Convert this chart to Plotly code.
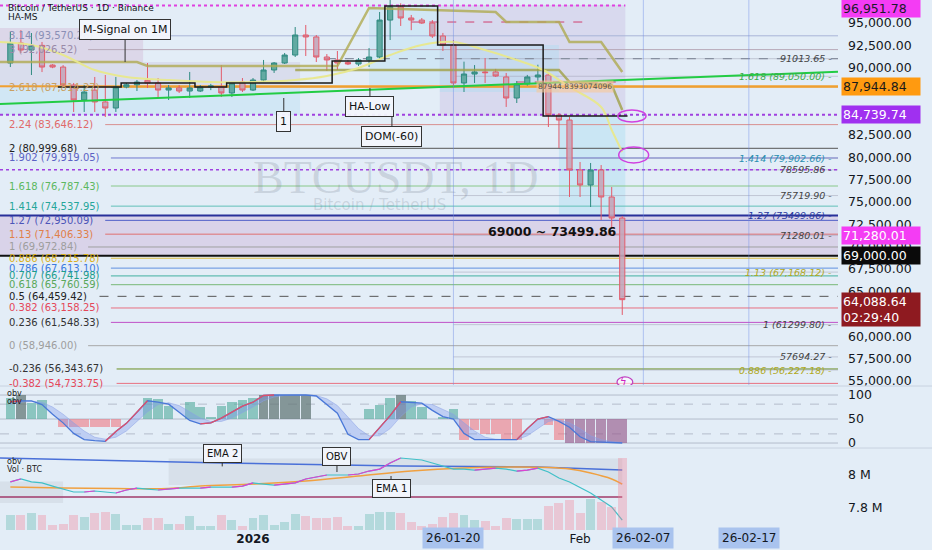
import plotly.graph_objects as go
import pandas as pd

# ---------------- data ----------------
dates = pd.date_range("2025-12-09", "2026-02-05", freq="D")

opens = [90530,92765,91980,92500,90300,90080,88070,86400,87500,86180,
         85500,87850,88100,88600,88300,87510,87740,87400,87400,87850,
         87850,87180,88410,87510,88630,89750,90530,91420,93660,93440,
         91200,90870,90600,90420,90870,91200,95330,96790,95560,95330,
         95000,93550,92540,88300,89300,89530,89530,88970,86620,88190,
         88970,89190,84720,84160,78580,76900,78580,75560,73210]
highs = [94000,94200,93880,92880,90400,90300,88300,88070,88970,89190,
         88970,88300,88630,90530,88850,88070,88070,89530,88070,88200,
         90300,88400,88850,88850,90870,90640,91650,94550,94780,93660,
         91530,91870,90870,91090,92200,96230,97900,97200,95900,95560,
         95330,93890,93100,90680,90300,91090,89870,89420,88520,89200,
         90340,89420,84930,84500,79470,79360,79130,76680,73430]
lows = [90080,91650,89190,89520,89950,87850,85060,85060,85060,84500,
        85060,87700,87400,87740,86620,86400,87180,86620,87290,87500,
        86730,86730,87290,87400,88410,89420,90420,91200,91310,90640,
        89640,89750,90300,90200,90080,90980,93100,94670,94200,94900,
        93330,91870,87740,87290,88300,88300,88970,85620,86060,88000,
        88300,83380,81030,75560,75560,74440,72990,72100,62380]
closes = [92765,91980,92500,90080,90080,88070,86400,87290,86180,85500,
          87850,88100,88400,88300,87510,87740,87400,87740,87850,87960,
          87180,88300,87510,88630,89750,90530,91420,93660,93440,91200,
          90870,90530,90420,90870,91200,95330,96790,95560,95330,95000,
          93550,92540,88300,89300,89530,89450,89080,86620,88190,88970,
          89190,84720,84160,78580,76900,78580,75560,73210,64088.64]

# volume (thousand BTC)
volumes = [18.0,18.0,20.4,18.0,6.0,7.2,18.0,15.6,20.4,21.6,
           19.2,6.0,6.0,14.4,14.4,7.2,7.2,16.8,4.8,4.8,
           18.0,12.0,4.8,14.4,18.0,6.0,9.6,19.2,16.8,14.4,
           14.4,15.6,4.8,4.8,19.2,21.6,21.6,20.4,9.6,4.8,
           7.2,15.6,20.4,18.0,12.0,10.8,4.8,14.4,13.2,13.2,
           13.2,28.8,32.4,36.0,20.4,37.2,33.6,27.6,86.4]

# OBV (millions)
obv = [7.958,7.976,7.958,7.952,7.933,7.915,7.897,7.897,7.903,7.897,
       7.891,7.909,7.921,7.915,7.909,7.915,7.921,7.921,7.921,7.927,
       7.927,7.927,7.933,7.952,7.945,7.939,7.945,7.952,7.976,7.988,
       8.000,8.000,8.000,8.006,8.024,8.036,8.073,8.103,8.097,8.091,
       8.073,8.055,8.036,8.036,8.030,8.036,8.042,8.036,8.024,8.030,
       8.042,8.018,7.982,7.958,7.927,7.891,7.848,7.806,7.727]
ema1_dates = ["2025-12-09","2025-12-14","2025-12-19","2025-12-24","2025-12-27","2026-01-01",
              "2026-01-06","2026-01-11","2026-01-16","2026-01-21","2026-01-26","2026-01-29",
              "2026-01-31","2026-02-02","2026-02-04","2026-02-05"]
ema1 = [7.927,7.921,7.918,7.918,7.933,7.945,7.964,7.994,8.024,8.042,8.048,8.045,
        8.036,8.012,7.976,7.945]
ema2_dates = ["2025-12-08","2025-12-29","2026-01-15","2026-01-28","2026-02-05"]
ema2 = [8.103,8.073,8.055,8.048,8.030]
obv_base = 7.867

# oscillator pane
osc_hist = [94,100,84,90,50,34,34,34,34,34,34,50,50,94,92,78,50,85,75,55,
            78,85,90,94,100,100,100,100,100,50,50,50,50,50,70,80,94,100,88,75,
            50,55,70,7,28,18,18,7,7,50,50,38,7,0,0,0,0,0,0]
osc_k = [86,88,88,80,60,42,20,7,5,3.5,24,41,64,88,85,81,64,47,40,42,
         52,65,77,85,99,100,100,100,100,98,80,62,18,7,7,31,57,86,85,83,
         68,55,50,20,7,7,7,7,7,30,50,55,45,33,13,3,2,1,0]
osc_d = [80,85,87,85,75,60,42,25,12,8,12,25,45,65,80,84,78,65,52,45,
         45,52,63,75,88,96,99,100,100,99,92,78,55,30,15,15,30,55,75,82,
         80,70,60,42,25,12,8,7,7,15,30,45,48,42,30,15,7,3,1]

# overlay lines on price
ma_dates = ["2025-12-08","2025-12-11","2025-12-14","2025-12-17","2025-12-20","2025-12-24",
            "2025-12-28","2026-01-01","2026-01-05","2026-01-08","2026-01-11","2026-01-14",
            "2026-01-17","2026-01-20","2026-01-23","2026-01-26","2026-01-28 12:00","2026-01-31",
            "2026-02-03","2026-02-04","2026-02-05"]
ma_vals = [92877,92542,91425,89749,88967,88631,88408,88408,88631,89078,89972,91425,
           92542,92877,91983,90866,89749,87849,85615,83045,80587]
up_olive_dates = ["2025-12-08","2025-12-21","2025-12-22","2026-01-09","2026-01-12","2026-01-24",
                  "2026-01-25","2026-01-30","2026-01-31","2026-02-03","2026-02-05"]
up_olive_vals = [90643,90643,90196,90196,96676,96229,95112,95112,92877,92877,89526]
lo_olive_dates = ["2026-01-05","2026-01-30","2026-01-31","2026-02-04","2026-02-05"]
lo_olive_vals = [89749,89749,88408,88073,85279]
hams_dates = ["2025-12-13 12:00","2025-12-19 12:00","2025-12-26 12:00","2025-12-29 12:00",
              "2026-01-08 12:00","2026-01-13 12:00","2026-01-18 12:00","2026-01-28 12:00",
              "2026-02-05 12:00"]
hams_vals = [87850,88296,87850,88296,90754,96900,92542,84610,84610]
trend_dates = ["2025-12-08","2026-02-25 10:45"]
trend_vals = [85950,89559]

# fib levels (left)
fib_vals = [93570.26,92026.52,87814.27,83646.12,80999.68,79919.05,76787.43,74537.95,
            72950.09,71406.33,69972.84,68715.78,67613.10,66741.98,65760.59,64459.42,
            63158.25,61548.33,58946.00,56343.67,54733.75]
fib_labels = ["3.14 (93,570.26)","3 (92,026.52)","2.618 (87,814.27)","2.24 (83,646.12)",
              "2 (80,999.68)","1.902 (79,919.05)","1.618 (76,787.43)","1.414 (74,537.95)",
              "1.27 (72,950.09)","1.13 (71,406.33)","1 (69,972.84)","0.886 (68,715.78)",
              "0.786 (67,613.10)","0.707 (66,741.98)","0.618 (65,760.59)","0.5 (64,459.42)",
              "0.382 (63,158.25)","0.236 (61,548.33)","0 (58,946.00)","-0.236 (56,343.67)",
              "-0.382 (54,733.75)"]
fib_colors = ["#8a8fb5","#9a8aa8","#c9a062","#e06a6a","#222222","#5c62c4","#5cb860","#26a69a",
              "#4b55b8","#e0804a","#9e9e9e","#d9b020","#3d7be0","#1e9e8c","#5aa85a","#222222",
              "#e5485a","#333333","#9e9e9e","#333333","#e5485a"]
fib_line_colors = ["#a8b4d8","#b8a8b8","#e8a040","#d89090","#555555","#7078d0","#88c88a","#60c0b8",
                   "#5060c8","#e07070","#a0a0a0","#e0c040","#6090e0","#40b0a0","#78b878","#555555",
                   "#e87080","#c050c8","#a8a8a8","#6b8e23","#e87080"]

# fib levels (right)
rfib_vals = [91013.65,89050.00,79902.66,78595.86,75719.90,73499.86,71280.01,67168.12,
             61299.80,57694.27,56227.18]
rfib_labels = ["91013.65","1.618 (89,050.00)","1.414 (79,902.66)","78595.86","75719.90",
               "1.27 (73499.86)","71280.01","1.13 (67,168.12)","1 (61299.80)","57694.27",
               "0.886 (56,227.18)"]
rfib_colors = ["#444","#3caa4a","#2a8fb0","#444","#444","#2a3aa0","#444","#b0a820","#444","#444",
               "#b0a820"]

price_ticks = [55000, 57500, 60000, 65000, 67500, 70000, 72500, 75000, 77500, 80000,
               82500, 90000, 92500, 95000]

# ---------------- helpers (layout) ----------------
JAN1 = pd.Timestamp("2026-01-01")
PX_PER_DAY = 10.55
def px_date(px):
    return JAN1 + pd.Timedelta(days=(px - 253) / PX_PER_DAY)

X0 = px_date(0)
X1 = px_date(838)
FONT = "DejaVu Sans"
BG = "#e3edf7"

fig = go.Figure()

# ---- price pane ----
fig.add_trace(go.Candlestick(
    x=dates, open=opens, high=highs, low=lows, close=closes,
    increasing=dict(line=dict(color="#2f8a80", width=1), fillcolor="#62aaa2"),
    decreasing=dict(line=dict(color="#e35b6b", width=1), fillcolor="rgba(196,165,185,0.9)"),
    whiskerwidth=0, xaxis="x", yaxis="y", showlegend=False, hoverinfo="skip"))

fig.add_trace(go.Scatter(x=trend_dates, y=trend_vals, mode="lines",
                         line=dict(color="#22cc44", width=2), xaxis="x", yaxis="y", showlegend=False))
fig.add_trace(go.Scatter(x=up_olive_dates, y=up_olive_vals, mode="lines",
                         line=dict(color="rgba(175,170,80,0.8)", width=2.5), xaxis="x", yaxis="y", showlegend=False))
fig.add_trace(go.Scatter(x=lo_olive_dates, y=lo_olive_vals, mode="lines",
                         line=dict(color="rgba(160,160,70,0.8)", width=2.5), xaxis="x", yaxis="y", showlegend=False))
fig.add_trace(go.Scatter(x=ma_dates, y=ma_vals, mode="lines", line_shape="spline",
                         line=dict(color="rgba(232,232,140,0.95)", width=2), xaxis="x", yaxis="y", showlegend=False))
fig.add_trace(go.Scatter(x=hams_dates, y=hams_vals, mode="lines", line_shape="hv",
                         line=dict(color="#1a1a1a", width=1.5), xaxis="x", yaxis="y", showlegend=False))

# ---- oscillator pane ----
osc_colors = []
for v in osc_hist:
    if v >= 98:
        osc_colors.append("rgba(100,120,120,0.75)")
    elif v > 50:
        osc_colors.append("rgba(80,170,155,0.6)")
    elif v <= 2:
        osc_colors.append("rgba(150,90,140,0.65)")
    else:
        osc_colors.append("rgba(240,110,120,0.55)")
fig.add_trace(go.Bar(x=dates, y=[v - 50 for v in osc_hist], base=50, marker_color=osc_colors,
                     marker_line_width=0, width=86400000 * 0.92, xaxis="x2", yaxis="y2",
                     showlegend=False, hoverinfo="skip"))
fig.add_trace(go.Scatter(x=dates, y=osc_d, mode="lines", line=dict(color="rgba(140,160,230,0.5)", width=1),
                         xaxis="x2", yaxis="y2", showlegend=False))
fig.add_trace(go.Scatter(x=dates, y=osc_k, mode="lines", line=dict(color="#4a78d8", width=1.3),
                         fill="tonexty", fillcolor="rgba(120,150,235,0.35)",
                         xaxis="x2", yaxis="y2", showlegend=False))
rise_y = [None] * len(osc_k)
for i in range(1, len(osc_k)):
    if osc_k[i] > osc_k[i - 1]:
        rise_y[i - 1] = osc_k[i - 1]
        rise_y[i] = osc_k[i]
fig.add_trace(go.Scatter(x=dates, y=rise_y, mode="lines", line=dict(color="#e0506a", width=1.3),
                         connectgaps=False, xaxis="x2", yaxis="y2", showlegend=False))

# ---- volume / OBV pane ----
vol_colors = ["rgba(90,180,170,0.35)" if c >= o else "rgba(240,130,150,0.35)" for o, c in zip(opens, closes)]
fig.add_trace(go.Bar(x=dates, y=volumes, marker_color=vol_colors, marker_line_width=0,
                     width=86400000 * 0.85, xaxis="x3", yaxis="y4", showlegend=False, hoverinfo="skip"))
fig.add_trace(go.Scatter(x=[X0, dates[-1]], y=[obv_base, obv_base], mode="lines",
                         line=dict(color="#a03a6a", width=1.5), xaxis="x3", yaxis="y3", showlegend=False))
fig.add_trace(go.Scatter(x=ema2_dates, y=ema2, mode="lines", line=dict(color="#4a70d8", width=1.5),
                         xaxis="x3", yaxis="y3", showlegend=False))
fig.add_trace(go.Scatter(x=ema1_dates, y=ema1, mode="lines", line_shape="spline",
                         line=dict(color="#f0a040", width=1.5), xaxis="x3", yaxis="y3", showlegend=False))
fig.add_trace(go.Scatter(x=dates, y=obv, mode="lines", line=dict(color="#40c0c8", width=1.2),
                         xaxis="x3", yaxis="y3", showlegend=False))
up_obv = [None] * len(obv)
for i in range(1, len(obv)):
    if obv[i] > obv[i - 1]:
        up_obv[i - 1] = obv[i - 1]
        up_obv[i] = obv[i]
fig.add_trace(go.Scatter(x=dates, y=up_obv, mode="lines", line=dict(color="#e040d0", width=1.2),
                         connectgaps=False, xaxis="x3", yaxis="y3", showlegend=False))

# ---------------- shapes ----------------
shapes = []
def rect(x0, x1, y0, y1, color, yref="y", xref="x"):
    shapes.append(dict(type="rect", xref=xref, yref=yref, x0=x0, x1=x1, y0=y0, y1=y1,
                       fillcolor=color, line_width=0, layer="below"))

rect(X0, "2025-12-21 14:00", 90643, 94441, "rgba(205,175,205,0.35)")
rect(X0, "2026-01-05 11:00", 87737, 90643, "rgba(195,185,215,0.30)")
rect(X0, "2026-01-05 11:00", 84720, 87737, "rgba(175,222,240,0.35)")
rect("2026-01-12", "2026-01-18 17:00", 87737, 97011, "rgba(175,222,240,0.35)")
rect("2026-01-18 17:00", "2026-02-05 07:00", 84609, 97011, "rgba(195,180,220,0.35)")
rect("2026-01-18 17:00", "2026-01-30", 87290, 92542, "rgba(165,220,240,0.35)")
rect("2026-01-30", "2026-02-05 07:00", 73548, 84609, "rgba(165,220,240,0.40)")
rect(X0, X1, 69000, 73499.86, "rgba(205,180,215,0.45)")

def hline(y, x0, x1, color, width=1, dash="solid", yref="y", xref="x"):
    shapes.append(dict(type="line", xref=xref, yref=yref, x0=x0, x1=x1, y0=y, y1=y,
                       line=dict(color=color, width=width, dash=dash), layer="below"))

# left fib lines, starting after the label text
for v, lab, lc in zip(fib_vals, fib_labels, fib_line_colors):
    start = px_date(10 + len(lab) * 5.7 + 4)
    dash = "dash" if lab.startswith("0.5 ") else "solid"
    hline(v, start, X1, lc, 1, dash)

# right fib lines
for v, c in zip(rfib_vals, rfib_colors):
    hline(v, "2026-01-20", X1, "rgba(150,150,170,0.45)", 1)

hline(87944.84, X0, X1, "#f0a030", 2)
hline(73499.86, X0, X1, "#28309a", 2)
hline(69000, X0, X1, "#111111", 2)
hline(96951.78, X0, "2026-02-05 07:00", "#e040e0", 2, "dot")
hline(84739.74, X0, X1, "#a040e0", 2, "dot")
hline(78595.86, X0, X1, "#a040e0", 1.5, "dot")
hline(91013.65, "2026-01-08", X1, "#8890a0", 1.2, "dash")
hline(95110, "2026-01-16", "2026-02-02", "#d04070", 1, "dash")
hline(88408, "2026-01-26", "2026-02-05 07:00", "#d04070", 1, "dash")

for d in ["2026-01-20", "2026-02-07", "2026-02-17"]:
    shapes.append(dict(type="line", xref="x", yref="paper", x0=d, x1=d,
                       y0=1 - 385 / 530, y1=1, line=dict(color="rgba(110,140,230,0.45)", width=1)))

# ellipses
shapes.append(dict(type="circle", xref="x", yref="y", x0="2026-02-04 14:00", x1="2026-02-07 06:00",
                   y0=83938, y1=85279, line=dict(color="#d040e0", width=1.5)))
shapes.append(dict(type="circle", xref="x", yref="y", x0="2026-02-04 16:00", x1="2026-02-07 12:00",
                   y0=79357, y1=81145, line=dict(color="#d040e0", width=1.5)))
shapes.append(dict(type="circle", xref="x", yref="y", x0="2026-02-04 12:00", x1="2026-02-06 00:00",
                   y0=54350, y1=55450, line=dict(color="#c040c0", width=1.2),
                   fillcolor="rgba(255,255,255,0.6)"))

# oscillator guide lines
for v, dsh in [(100, "solid"), (50, "solid"), (0, "solid"), (81, "dash"), (19, "dash")]:
    shapes.append(dict(type="line", xref="paper", yref="y2", x0=0, x1=1, y0=v, y1=v,
                       line=dict(color="#b4bccb", width=1, dash=dsh), layer="below"))
# pane separators
for ypx in [386, 448]:
    yp = 1 - ypx / 530
    shapes.append(dict(type="line", xref="paper", yref="paper", x0=0, x1=932 / 838, y0=yp, y1=yp,
                       line=dict(color="#c8d2e0", width=1)))
# OBV band
shapes.append(dict(type="rect", xref="x", yref="y3", x0="2025-12-24", x1="2026-02-05",
                   y0=7.94, y1=8.10, fillcolor="rgba(160,165,175,0.18)", line_width=0, layer="below"))
shapes.append(dict(type="rect", xref="x", yref="y3", x0=X0, x1="2025-12-14",
                   y0=7.83, y1=7.96, fillcolor="rgba(160,165,175,0.18)", line_width=0, layer="below"))

# ---------------- annotations ----------------
ann = []
for v, lab, c in zip(fib_vals, fib_labels, fib_colors):
    ann.append(dict(xref="paper", yref="y", x=0, y=v, xanchor="left", yanchor="middle", xshift=7,
                    text=lab, showarrow=False, font=dict(family=FONT, size=10, color=c)))
for v, lab, c in zip(rfib_vals, rfib_labels, rfib_colors):
    ann.append(dict(xref="paper", yref="y", x=1, y=v, xanchor="right", yanchor="middle", xshift=-4,
                    text=lab + " -", showarrow=False,
                    font=dict(family=FONT, size=9.5, color=c, style="italic")))

ann.append(dict(xref="x", yref="y", x="2026-01-31 12:00", y=87944.84, text="87944.8393074096",
                showarrow=False, font=dict(family=FONT, size=7.5, color="#555"),
                bgcolor="rgba(250,200,150,0.6)", borderpad=1))

# price-axis labels
def plabel(v, text, bg, fg, extra="", yshift=0):
    ann.append(dict(xref="paper", yref="y", x=1, y=v, xanchor="left", yanchor="middle" if not extra else "top",
                    xshift=3, yshift=(8 if extra else 0) + yshift,
                    text=text + extra, showarrow=False, align="left", width=76,
                    bgcolor=bg, font=dict(family=FONT, size=12.5, color=fg), borderpad=1))
plabel(96951.78, "96,951.78", "#f43cf4", "#1a1a2a", yshift=-3)
plabel(87944.84, "87,944.84", "#ff9a10", "#1a1a1a")
plabel(84739.74, "84,739.74", "#a030f0", "#ffffff")
plabel(71280.01, "71,280.01", "#f43cf4", "#ffffff")
plabel(69000.00, "69,000.00", "#0a0a0a", "#ffffff")
plabel(64088.64, "64,088.64", "#8e1a20", "#ffffff", "<br>02:29:40")

# callouts
def callout(x, y, text, ay, yref="y", size=11):
    ann.append(dict(xref="x", yref=yref, x=x, y=y, ax=0, ay=ay, text=text, showarrow=True,
                    arrowhead=0, arrowwidth=1, arrowcolor="#333",
                    font=dict(family=FONT, size=size, color="#111"),
                    bgcolor="rgba(242,246,252,0.95)", bordercolor="#333", borderwidth=1, borderpad=3))
callout("2025-12-19 21:00", 90643, "M-Signal on 1M", -33)
callout("2026-01-12 02:00", 87737, "HA-Low", 18)
callout("2026-01-14 04:00", 84497, "DOM(-60)", 19)
callout("2026-01-03 22:00", 86620, "1", 23)
callout("2025-12-29 02:00", 8.052, "EMA 2", -13, "y3", 10)
callout("2026-01-08 23:00", 8.018, "OBV", -16, "y3", 10)
callout("2026-01-14 02:00", 7.994, "EMA 1", 13, "y3", 10)

ann.append(dict(xref="x", yref="y", x="2026-01-29 10:00", y=71760, text="<b>69000 ~ 73499.86</b>",
                showarrow=False, font=dict(family=FONT, size=12.5, color="#111")))
ann.append(dict(xref="x", yref="y", x="2026-01-14 12:00", y=77700, text="BTCUSDT, 1D",
                showarrow=False, font=dict(family="Liberation Serif", size=46, color="rgba(110,120,135,0.22)")))
ann.append(dict(xref="x", yref="y", x="2026-01-13", y=74700, text="Bitcoin / TetherUS",
                showarrow=False, font=dict(family=FONT, size=15, color="rgba(110,120,135,0.22)")))
ann.append(dict(xref="x", yref="y", x="2026-02-05 02:00", y=54900, text="ϟ", showarrow=False,
                font=dict(family=FONT, size=10, color="#d020c0")))

# top-left legend text
ann.append(dict(xref="paper", yref="paper", x=0, y=1, xanchor="left", yanchor="top", xshift=6, yshift=-1,
                text="Bitcoin / TetherUS · 1D · Binance", showarrow=False,
                font=dict(family=FONT, size=9, color="#131722")))
ann.append(dict(xref="paper", yref="paper", x=0, y=1, xanchor="left", yanchor="top", xshift=6, yshift=-10,
                text="HA-MS", showarrow=False, font=dict(family=FONT, size=9, color="#131722")))
for i, t in enumerate(["obv", "obv"]):
    ann.append(dict(xref="paper", yref="paper", x=0, y=1 - 387 / 530, xanchor="left", yanchor="top",
                    xshift=5, yshift=-i * 8, text=t, showarrow=False, font=dict(family=FONT, size=8, color="#222")))
for i, t in enumerate(["obv", "Vol · BTC"]):
    ann.append(dict(xref="paper", yref="paper", x=0, y=1 - 455 / 530, xanchor="left", yanchor="top",
                    xshift=5, yshift=-i * 8, text=t, showarrow=False, font=dict(family=FONT, size=8, color="#222")))

# highlighted date labels
for d, t in [("2026-01-20", "26-01-20"), ("2026-02-07", "26-02-07"), ("2026-02-17", "26-02-17")]:
    ann.append(dict(xref="x", yref="paper", x=d, y=-8 / 530, yanchor="middle", text=t, showarrow=False,
                    bgcolor="#a9c3ee", borderpad=3, font=dict(family=FONT, size=12, color="#131722")))

# ---------------- layout ----------------
xcommon = dict(type="date", range=[X0, X1], showgrid=False, zeroline=False, showline=False,
               rangeslider=dict(visible=False), fixedrange=True)
fig.update_layout(
    width=932, height=550,
    margin=dict(l=0, r=94, t=0, b=20),
    paper_bgcolor=BG, plot_bgcolor=BG,
    showlegend=False, bargap=0, barmode="overlay",
    xaxis=dict(**xcommon, domain=[0, 1], anchor="y", showticklabels=False),
    xaxis2=dict(**xcommon, domain=[0, 1], anchor="y2", matches="x", showticklabels=False),
    xaxis3=dict(**xcommon, domain=[0, 1], anchor="y3", matches="x",
                tickvals=["2026-01-01", "2026-02-01"], ticktext=["<b>2026</b>", "Feb"],
                tickfont=dict(family=FONT, size=12, color="#131722"), ticks=""),
    yaxis=dict(domain=[1 - 385 / 530, 1], range=[54553, 97570], side="right",
               tickvals=price_ticks, tickformat=",.2f", showgrid=False, zeroline=False,
               tickfont=dict(family=FONT, size=12.5, color="#131722"), ticks="",
               ticklabelstandoff=9),
    yaxis2=dict(domain=[1 - 447 / 530, 1 - 387 / 530], range=[-8.3, 116.7], side="right",
                tickvals=[0, 50, 100], showgrid=False, zeroline=False, anchor="x2",
                tickfont=dict(family=FONT, size=12.5, color="#131722"), ticks="",
                ticklabelstandoff=9),
    yaxis3=dict(domain=[0, 1 - 449 / 530], range=[7.6667, 8.1576], side="right", anchor="x3",
                tickvals=[7.8, 8.0], ticktext=["7.8 M", "8 M"], showgrid=False, zeroline=False,
                tickfont=dict(family=FONT, size=12.5, color="#131722"), ticks="",
                ticklabelstandoff=9),
    yaxis4=dict(range=[0, 97.2], overlaying="y3", anchor="x3", visible=False, side="left"),
    shapes=shapes, annotations=ann,
)

fig.write_html("out.html", config={"displayModeBar": False},
               post_script="document.body.style.margin='0';document.body.style.background='%s';" % BG)
